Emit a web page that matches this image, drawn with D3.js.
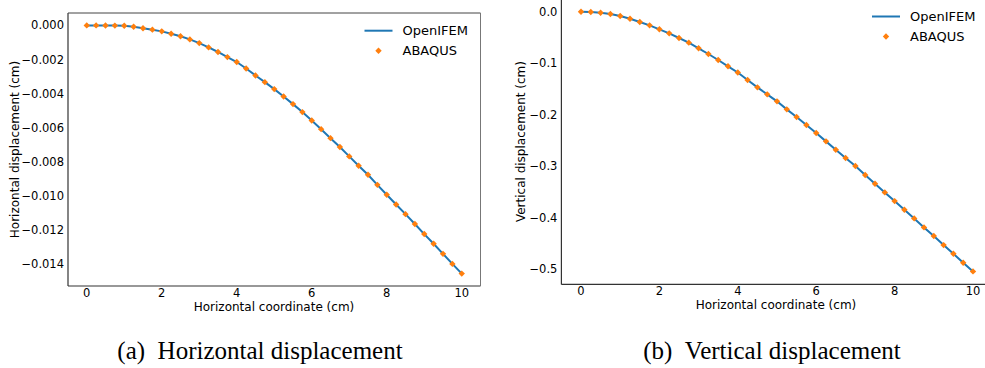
<!DOCTYPE html>
<html>
<head>
<meta charset="utf-8">
<script src="https://cdn.jsdelivr.net/npm/d3@7"></script>
<style>
  html, body { margin: 0; padding: 0; background: #fff; }
  svg { display: block; }
  .tick-label { font-family: "DejaVu Sans", sans-serif; font-size: 11.5px; fill: #000; }
  .axis-label { font-family: "DejaVu Sans", sans-serif; font-size: 12px; fill: #000; }
  .legend-text { font-family: "DejaVu Sans", sans-serif; font-size: 13px; fill: #000; }
  .caption { font-family: "Liberation Serif", "Times New Roman", serif; font-size: 25px; fill: #000; }
</style>
</head>
<body>
<svg id="fig" width="985" height="368"></svg>
<script>
// Nodal positions along the beam (cm)
const xCoord = [0, 0.25, 0.5, 0.75, 1, 1.25, 1.5, 1.75, 2, 2.25, 2.5, 2.75, 3, 3.25, 3.5, 3.75,
  4, 4.25, 4.5, 4.75, 5, 5.25, 5.5, 5.75, 6, 6.25, 6.5, 6.75, 7, 7.25, 7.5, 7.75,
  8, 8.25, 8.5, 8.75, 9, 9.25, 9.5, 9.75, 10];

// Horizontal displacement (cm)
const horizOpenIFEM = [0, 0, -0.000005, -0.00001, -0.00002, -0.00008, -0.00017, -0.00025, -0.00035,
  -0.00049, -0.00064, -0.00082, -0.00104, -0.00129, -0.00156, -0.00186, -0.00215, -0.00253,
  -0.00294, -0.00333, -0.00374, -0.00417, -0.00462, -0.00509, -0.00558, -0.00609, -0.00662,
  -0.00714, -0.00769, -0.00824, -0.00877, -0.00936, -0.00994, -0.01051, -0.01108, -0.01166,
  -0.01225, -0.01282, -0.01341, -0.01400, -0.01457];
const horizAbaqus = horizOpenIFEM.slice();

// Vertical displacement (cm)
const vertOpenIFEM = [0, -0.0006, -0.0020, -0.0045, -0.0084, -0.0136, -0.0200, -0.0265, -0.0342,
  -0.0420, -0.0511, -0.0601, -0.0711, -0.0821, -0.0938, -0.1060, -0.1180, -0.1326, -0.1469,
  -0.1604, -0.1740, -0.1896, -0.2045, -0.2200, -0.2355, -0.2517, -0.2679, -0.2841, -0.2996,
  -0.3171, -0.3339, -0.3507, -0.3676, -0.3844, -0.4012, -0.4187, -0.4355, -0.4530, -0.4698,
  -0.4873, -0.5041];
const vertAbaqus = vertOpenIFEM.slice();

const xTicks = [0, 2, 4, 6, 8, 10];
const horizTicks = [0, -0.002, -0.004, -0.006, -0.008, -0.010, -0.012, -0.014];
const vertTicks = [0, -0.1, -0.2, -0.3, -0.4, -0.5];
const seriesNames = ["OpenIFEM", "ABAQUS"];
const captions = ["(a)\u2002Horizontal displacement", "(b)\u2002Vertical displacement"];

const lineColor = "#1f77b4";
const markerColor = "#ff7f0e";

const svg = d3.select("#fig");

// Matplotlib-style 5% data margins
function padded(values) {
  const [lo, hi] = d3.extent(values);
  const m = (hi - lo) * 0.05;
  return [lo - m, hi + m];
}

function panel(opts) {
  const g = svg.append("g");
  const x = d3.scaleLinear().domain(padded(xCoord)).range([opts.left, opts.right]);
  const y = d3.scaleLinear().domain(padded(opts.model.concat(opts.ref))).range([opts.bottom, opts.top]);

  // spines
  g.append("line").attr("x1", opts.left).attr("x2", opts.left)
    .attr("y1", opts.top).attr("y2", opts.bottom)
    .attr("stroke", "#333").attr("stroke-width", 1.2);
  g.append("line").attr("x1", opts.left).attr("x2", opts.right)
    .attr("y1", opts.bottom).attr("y2", opts.bottom)
    .attr("stroke", "#333").attr("stroke-width", 1.2);
  if (opts.box) {
    g.append("line").attr("x1", opts.left).attr("x2", opts.right)
      .attr("y1", opts.top).attr("y2", opts.top)
      .attr("stroke", "#444").attr("stroke-width", 1);
    g.append("line").attr("x1", opts.right).attr("x2", opts.right)
      .attr("y1", opts.top).attr("y2", opts.bottom)
      .attr("stroke", "#777").attr("stroke-width", 1);
  }

  // x tick labels
  g.selectAll(".xt").data(xTicks).join("text")
    .attr("class", "tick-label")
    .attr("x", d => x(d)).attr("y", opts.bottom + 11)
    .attr("text-anchor", "middle")
    .text(d => d3.format("d")(d));

  // y tick labels
  g.selectAll(".yt").data(opts.yTicks).join("text")
    .attr("class", "tick-label")
    .attr("x", opts.left - 4).attr("y", d => y(d))
    .attr("dy", "0.35em")
    .attr("text-anchor", "end")
    .text(d => d3.format(opts.yFmt)(d));

  // axis titles
  g.append("text").attr("class", "axis-label")
    .attr("x", opts.xLabelX).attr("y", opts.bottom + 25)
    .attr("text-anchor", "middle")
    .text("Horizontal coordinate (cm)");
  g.append("text").attr("class", "axis-label")
    .attr("transform", `translate(${opts.yLabelX},${(opts.top + opts.bottom) / 2}) rotate(-90)`)
    .attr("text-anchor", "middle")
    .attr("dy", "0.35em")
    .text(opts.yLabel);

  // OpenIFEM solution line
  const line = d3.line().x((d, i) => x(xCoord[i])).y(d => y(d));
  g.append("path").datum(opts.model)
    .attr("fill", "none").attr("stroke", lineColor).attr("stroke-width", 2)
    .attr("d", line);

  // ABAQUS reference points
  const diamond = "M0,-3.2L3.2,0L0,3.2L-3.2,0Z";
  g.selectAll(".pt").data(opts.ref).join("path")
    .attr("transform", (d, i) => `translate(${x(xCoord[i])},${y(d)})`)
    .attr("d", diamond)
    .attr("fill", markerColor);

  // legend
  const lg = g.append("g").attr("transform", `translate(${opts.legendX},${opts.legendY})`);
  lg.append("line").attr("x1", 0).attr("x2", 28).attr("y1", 0).attr("y2", 0)
    .attr("stroke", lineColor).attr("stroke-width", 2);
  lg.append("text").attr("class", "legend-text").attr("x", 38).attr("y", 4.7).text(seriesNames[0]);
  lg.append("path").attr("d", diamond).attr("fill", markerColor)
    .attr("transform", "translate(14,20)");
  lg.append("text").attr("class", "legend-text").attr("x", 38).attr("y", 24.5).text(seriesNames[1]);

  // caption
  svg.append("text").attr("class", "caption")
    .attr("x", opts.captionX).attr("y", 359)
    .attr("text-anchor", "middle")
    .text(opts.caption);
}

panel({
  left: 68, right: 480.5, top: 13, bottom: 286,
  model: horizOpenIFEM, ref: horizAbaqus,
  yTicks: horizTicks, yFmt: ".3f",
  yLabel: "Horizontal displacement (cm)", yLabelX: 14.5,
  xLabelX: 274, box: true,
  legendX: 364.5, legendY: 30.7,
  caption: captions[0], captionX: 260
});

panel({
  left: 561.4, right: 992.6, top: -1.3, bottom: 284.4,
  model: vertOpenIFEM, ref: vertAbaqus,
  yTicks: vertTicks, yFmt: ".1f",
  yLabel: "Vertical displacement (cm)", yLabelX: 520.5,
  xLabelX: 776, box: false,
  legendX: 872, legendY: 16.5,
  caption: captions[1], captionX: 772
});
</script>
</body>
</html>
